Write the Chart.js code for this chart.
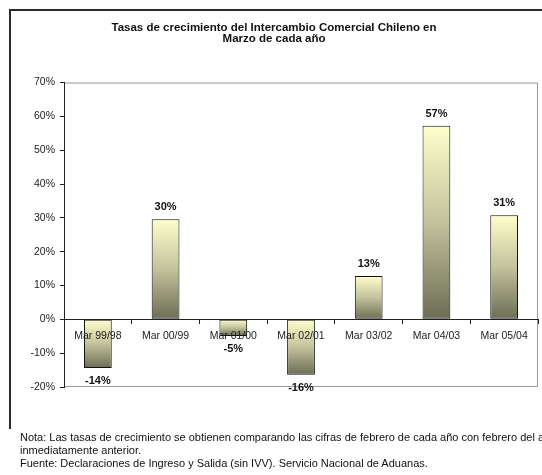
<html lang="es">
<head>
  <meta charset="UTF-8">
  <title>Tasas de crecimiento</title>
  <script src="https://cdn.jsdelivr.net/npm/chart.js"></script>
  <style>
    body {
      margin: 0;
      background: white;
      font-family: "Liberation Sans", Arial, sans-serif;
      overflow: hidden;
    }
    #wrap {
      position: relative;
      width: 542px;
      height: 475px;
      overflow: hidden;
    }
    #nota {
      position: absolute;
      left: 20px;
      top: 431px;
      font-size: 11px;
      line-height: 13px;
      color: #111;
      white-space: nowrap;
    }
  </style>
</head>
<body>
  <div id="wrap">
    <canvas id="grafico" width="542" height="475"></canvas>
    <div id="nota">
      Nota: Las tasas de crecimiento se obtienen comparando las cifras de febrero de cada año con febrero del año<br>
      inmediatamente anterior.<br>
      Fuente: Declaraciones de Ingreso y Salida (sin IVV). Servicio Nacional de Aduanas.
    </div>
  </div>

  <script>
    const categorias = ['Mar 99/98', 'Mar 00/99', 'Mar 01/00', 'Mar 02/01', 'Mar 03/02', 'Mar 04/03', 'Mar 05/04'];
    const tasas = [-14.4, 29.6, -4.9, -16.4, 12.8, 57.2, 30.8];
    const titulo = ['Tasas de crecimiento del Intercambio Comercial Chileno en', 'Marzo de cada año'];

    const fuente = '"Liberation Sans", Arial, sans-serif';

    // degradado de cada barra: claro arriba, oscuro abajo
    function colorBarra(ctx) {
      const chart = ctx.chart;
      if (!chart.chartArea || ctx.dataIndex === undefined) return '#cccc99';
      const y = chart.scales.y;
      const v = ctx.raw;
      const a = y.getPixelForValue(Math.max(v, 0));
      const b = y.getPixelForValue(Math.min(v, 0));
      const g = chart.ctx.createLinearGradient(0, a, 0, b);
      g.addColorStop(0, '#ffffcc');
      g.addColorStop(0.5, '#c2c29c');
      g.addColorStop(1, '#6c6c54');
      return g;
    }

    // marco del grafico y borde del area de trazado
    const marco = {
      id: 'marco',
      beforeDraw(chart) {
        const c = chart.ctx;
        const a = chart.chartArea;
        c.save();
        c.strokeStyle = '#2a2a2a';
        c.lineWidth = 2;
        c.beginPath();
        c.moveTo(10, 429);
        c.lineTo(10, 10);
        c.lineTo(542, 10);
        c.stroke();
        c.strokeStyle = '#999999';
        c.lineWidth = 1;
        c.beginPath();
        c.moveTo(a.left, a.top + 0.5);
        c.lineTo(a.right - 0.5, a.top + 0.5);
        c.lineTo(a.right - 0.5, a.bottom - 0.5);
        c.lineTo(a.left, a.bottom - 0.5);
        c.stroke();
        c.restore();
      }
    };

    // etiquetas con el valor sobre / bajo cada barra
    const etiquetas = {
      id: 'etiquetas',
      afterDatasetsDraw(chart) {
        const c = chart.ctx;
        const meta = chart.getDatasetMeta(0);
        c.save();
        c.font = 'bold 11px ' + fuente;
        c.fillStyle = '#111';
        c.textAlign = 'center';
        c.textBaseline = 'middle';
        meta.data.forEach((bar, i) => {
          const v = tasas[i];
          const y = v >= 0 ? bar.y - 12 : bar.y + 13;
          c.fillText(Math.round(v) + '%', bar.x, y);
        });
        c.restore();
      }
    };

    new Chart(document.getElementById('grafico'), {
      type: 'bar',
      data: {
        labels: categorias,
        datasets: [{
          data: tasas,
          backgroundColor: colorBarra,
          borderColor: '#111',
          borderWidth: 1,
          borderSkipped: false,
          categoryPercentage: 1,
          barPercentage: 0.41
        }]
      },
      options: {
        responsive: false,
        animation: false,
        layout: {
          padding: { left: 10, right: 4, top: 0, bottom: 88 }
        },
        plugins: {
          legend: { display: false },
          tooltip: { enabled: false },
          title: {
            display: true,
            text: titulo,
            color: '#111',
            font: { family: fuente, size: 11.5, weight: 'bold', lineHeight: 0.98 },
            padding: { top: 22, bottom: 38 }
          }
        },
        scales: {
          x: {
            position: { y: 0 },
            // eje, marcas y rotulos encima de las barras
            grid: {
              drawOnChartArea: false,
              drawTicks: true,
              tickLength: 4,
              tickColor: '#222',
              offset: true,
              z: 1
            },
            border: { color: '#222', width: 1, z: 1 },
            ticks: {
              z: 1,
              color: '#222',
              padding: 6,
              maxRotation: 0,
              autoSkip: false,
              font: { family: fuente, size: 10.5 }
            }
          },
          y: {
            min: -20,
            max: 70,
            afterFit(s) { s.width = 54; },
            grid: {
              drawOnChartArea: false,
              drawTicks: true,
              tickLength: 4,
              tickColor: '#222'
            },
            border: { color: '#222', width: 1 },
            ticks: {
              stepSize: 10,
              color: '#222',
              padding: 5,
              font: { family: fuente, size: 10.5 },
              callback: v => v + '%'
            }
          }
        }
      },
      plugins: [marco, etiquetas]
    });
  </script>
</body>
</html>
